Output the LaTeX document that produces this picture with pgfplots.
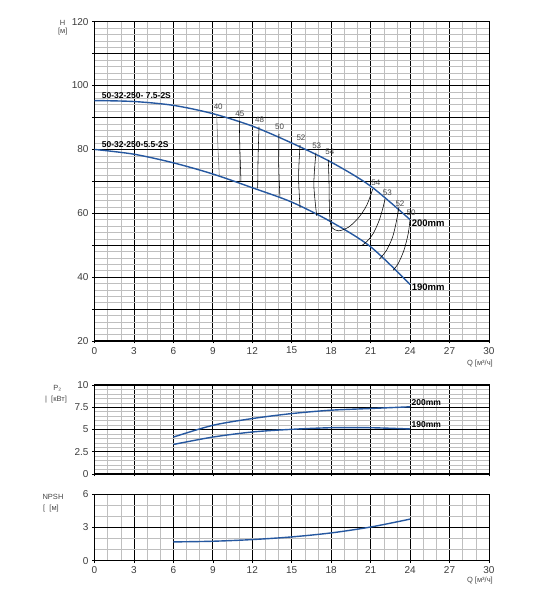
\documentclass[border=0pt]{standalone}
\usepackage{pgfplots}
\pgfplotsset{compat=1.18}
\usepackage{fontspec}
\setmainfont{Liberation Sans}
\definecolor{curve}{RGB}{38,88,160}
\definecolor{tickgray}{RGB}{60,60,60}
\definecolor{lblgray}{RGB}{70,70,70}
\pgfplotsset{
  pumpgrid/.style={
    scale only axis, anchor=south west, width=394.5pt,
    xmin=0, xmax=30, xtick={0,3,...,30}, minor x tick num=2,
    grid=both,
    major grid style={black, line width=0.9pt},
    minor grid style={black!25, line width=0.55pt},
    axis line style={black, line width=1pt},
    tick align=outside, major tick length=2.5pt, minor tick length=0pt,
    tick style={black, line width=0.6pt},
    xtick pos=bottom, ytick pos=left,
    tick label style={font=\fontsize{10}{10}\selectfont, text=tickgray},
    /pgf/number format/assume math mode=true,
    clip=false,
  },
  pc/.style={color=curve, line width=1.4pt, smooth},
  eff/.style={black, line width=0.55pt, smooth},
}
\begin{document}
\begin{tikzpicture}
\path[use as bounding box] (0,0) rectangle (550pt,600pt);
% ---------- H(Q) ----------
\begin{axis}[pumpgrid, at={(94.5pt,259pt)}, height=319.3pt,
  ymin=20, ymax=120, ytick={20,30,...,120},
  yticklabels={20,,40,,60,,80,,100,,120}, minor y tick num=4]
\addplot[pc] coordinates {(0,95.3) (3,95.0) (6,93.8) (9,91.2) (12,87.3) (15,82.0) (18,76.0) (21,68.5) (24,58.0)};
\addplot[pc] coordinates {(0,80.0) (3,78.5) (6,75.8) (9,72.3) (12,68.0) (15,63.5) (18,57.3) (21,49.5) (24,37.7)};
% efficiency lines
\addplot[eff, black!55] coordinates {(9.29,91.0) (9.38,81.5) (9.49,71.8)};
\addplot[eff] coordinates {(11.01,89.0) (11.06,79.5) (11.14,69.9)};
\addplot[eff] coordinates {(12.51,87.1) (12.44,77.5) (12.41,67.8)};
\addplot[eff] coordinates {(14.03,84.9) (14.01,75) (14.1,65.2)};
\addplot[eff] coordinates {(15.63,81.4) (15.52,71.5) (15.63,61.8)};
\addplot[eff] coordinates {(16.84,79.0) (16.68,69) (16.9,59.2)};
\addplot[eff] coordinates {(17.78,76.7) (17.83,70.4) (17.85,64.2) (17.9,58.4) (18.04,55.6) (18.54,54.5) (19.3,55.6) (20.06,58.5) (20.7,62.5) (21.16,67.6)};
\addplot[eff] coordinates {(22.09,64.4) (21.96,62.1) (21.66,57.9) (21.2,53.7) (20.7,51.1) (20.32,49.9)};
\addplot[eff] coordinates {(23.16,62.1) (22.98,57.9) (22.68,52.7) (22.22,48.5) (21.66,45.6)};
\addplot[eff] coordinates {(23.99,57.9) (23.86,53.7) (23.54,48.5) (23.1,44.3) (22.72,42.2)};
% labels
\begin{scope}[every node/.style={font=\fontsize{8}{8}\selectfont, text=lblgray, inner sep=0pt}]
\node at (axis cs:9.41,93.4) {40};
\node at (axis cs:11.05,91.3) {45};
\node at (axis cs:12.55,89.4) {48};
\node at (axis cs:14.07,87.1) {50};
\node at (axis cs:15.7,83.8) {52};
\node at (axis cs:16.9,81.3) {53};
\node at (axis cs:17.9,79.2) {54};
\node at (axis cs:21.4,69.4) {54};
\node at (axis cs:22.27,66.4) {53};
\node at (axis cs:23.23,63.1) {52};
\node at (axis cs:24.07,60.2) {50};
\end{scope}
\node[anchor=west, inner sep=0pt, font=\bfseries\fontsize{9.5}{9.5}\selectfont] at (axis cs:24.12,56.9) {200mm};
\node[anchor=west, inner sep=0pt, font=\bfseries\fontsize{9.5}{9.5}\selectfont] at (axis cs:24.12,36.8) {190mm};
\node[anchor=west, inner sep=0pt, font=\bfseries\fontsize{8.5}{8.5}\selectfont] at (axis cs:0.55,96.8) {50-32-250- 7.5-2S};
\node[anchor=west, inner sep=0pt, font=\bfseries\fontsize{8.5}{8.5}\selectfont] at (axis cs:0.55,81.4) {50-32-250-5.5-2S};
\end{axis}
% ---------- P2(Q) ----------
\begin{axis}[pumpgrid, at={(94.5pt,126pt)}, height=89pt,
  ymin=0, ymax=10, ytick={0,2.5,5,7.5,10}, minor y tick num=4,
  xticklabels={}]
\addplot[pc] coordinates {(6,4.15) (9,5.47) (12,6.23) (15,6.79) (18,7.17) (21,7.36) (24,7.55)};
\addplot[pc] coordinates {(6,3.32) (9,4.15) (12,4.72) (15,5.02) (18,5.2) (21,5.2) (24,5.06)};
\node[anchor=west, inner sep=0pt, font=\bfseries\fontsize{8.5}{8.5}\selectfont] at (axis cs:24.1,8.0) {200mm};
\node[anchor=west, inner sep=0pt, font=\bfseries\fontsize{8.5}{8.5}\selectfont] at (axis cs:24.1,5.5) {190mm};
\end{axis}
% ---------- NPSH(Q) ----------
\begin{axis}[pumpgrid, at={(94.5pt,39.3pt)}, height=66.7pt,
  ymin=0, ymax=6, ytick={0,3,6}, minor y tick num=2]
\addplot[pc] coordinates {(6,1.69) (9,1.75) (12,1.9) (15,2.14) (18,2.5) (21,3.03) (24,3.74)};
\end{axis}
% axis captions
\begin{scope}[every node/.style={font=\fontsize{7.5}{7.5}\selectfont, text=lblgray, inner sep=0pt}]
\node at (62.7pt,577.3pt) {H};
\node at (62.7pt,568.3pt) {[м]};
\node at (57.3pt,211.7pt) {P₂};
\node at (56pt,200pt) {|\ \ [кВт]};
\node at (53pt,103.3pt) {NPSH};
\node at (51pt,91.7pt) {[\ \ [м]};
\node[anchor=east] at (493pt,236.7pt) {Q [м³/ч]};
\node[anchor=east] at (493pt,19.3pt) {Q [м³/ч]};
\end{scope}
\end{tikzpicture}
\end{document}
